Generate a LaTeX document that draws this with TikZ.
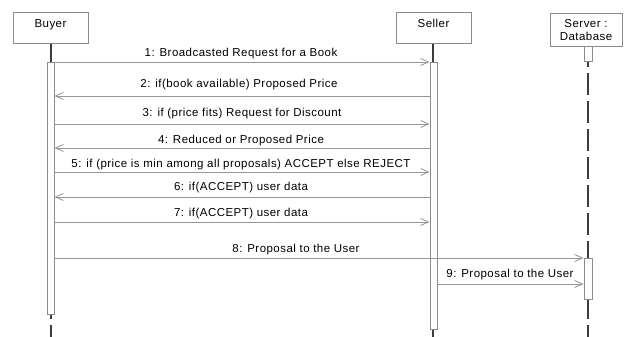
\documentclass[tikz,border=0pt]{standalone}
\usepackage{fontspec}
\setmainfont{Liberation Sans}[LetterSpace=4]
\usetikzlibrary{arrows.meta}
\definecolor{framegray}{RGB}{140,140,140}
\definecolor{msggray}{RGB}{150,150,150}
\definecolor{lifegray}{RGB}{60,60,60}
\begin{document}
\begin{tikzpicture}[x=1pt,y=-1pt,
  font=\fontsize{11.5}{13.5}\selectfont,
  objbox/.style={draw=framegray, line width=0.8pt, fill=white, inner sep=0pt,
    align=center, minimum width=75pt, minimum height=31pt},
  actbar/.style={draw=framegray, line width=0.8pt, fill=white, inner sep=0pt,
    minimum width=7pt},
  lifeline/.style={draw=lifegray, line width=1.2pt},
  dashline/.style={lifeline, dash pattern=on 22pt off 6pt},
  msg/.style={draw=msggray, line width=0.8pt,
    -{Straight Barb[length=8pt,width=7pt,line width=0.8pt]}},
  lbl/.style={inner sep=0pt, anchor=base}]
\useasboundingbox (0,0) rectangle (624,337);

% objects
\node[objbox, anchor=north, text height=8pt, text depth=8pt] (buyer) at (50.5,12) {Buyer};
\node[objbox, anchor=north, text height=8pt, text depth=8pt] (seller) at (433.5,12) {Seller};
\node[objbox, anchor=north, minimum width=72pt, minimum height=33pt] (server) at (586,13) {Server :\\Database};

% lifelines
\coordinate (bend) at (51,337);
\coordinate (send) at (433,337);
\coordinate (vend) at (588,337);
\draw[lifeline] (buyer.south -| bend) -- (51,62);
\draw[lifeline] (seller.south -| send) -- (433,62);
\draw[dashline, dash phase=17pt] (51,314) -- (bend);
\draw[lifeline] (433,329) -- (send);
\draw[dashline, dash phase=16pt] (588,61) -- (vend);

% activation bars
\node[actbar, anchor=north, minimum height=252pt] (bact) at (50.5,62) {};
\node[actbar, anchor=north, minimum height=267pt] (sact) at (433.5,62) {};
\node[actbar, anchor=north, minimum width=8pt, minimum height=15pt] (vtop) at (588,46) {};
\node[actbar, anchor=north, minimum width=8pt, minimum height=41pt] (vact) at (588,258) {};

% messages
\draw[msg] (bact.east |- 0,62) -- (sact.west |- 0,62);
\draw[msg] (sact.west |- 0,96) -- (bact.east |- 0,96);
\draw[msg] (bact.east |- 0,124) -- (sact.west |- 0,124);
\draw[msg] (sact.west |- 0,148) -- (bact.east |- 0,148);
\draw[msg] (bact.east |- 0,172) -- (sact.west |- 0,172);
\draw[msg] (sact.west |- 0,197) -- (bact.east |- 0,197);
\draw[msg] (bact.east |- 0,222) -- (sact.west |- 0,222);
\draw[msg] (bact.east |- 0,258) -- (vact.west |- 0,258);
\draw[msg] (sact.east |- 0,284) -- (vact.west |- 0,284);

% message labels
\node[lbl] (l1) at (241,57) {1: Broadcasted Request for a Book};
\node[lbl] (l2) at (239,88) {2: if(book available) Proposed Price};
\node[lbl] (l3) at (242,116) {3: if (price fits) Request for Discount};
\node[lbl] (l4) at (241,143) {4: Reduced or Proposed Price};
\node[lbl] (l5) at (241,167) {5: if (price is min among all proposals) ACCEPT else REJECT};
\node[lbl] (l6) at (241,190) {6: if(ACCEPT) user data};
\node[lbl] (l7) at (241,216) {7: if(ACCEPT) user data};
\node[lbl] (l8) at (296,252) {8: Proposal to the User};
\node[lbl] (l9) at (510,277) {9: Proposal to the User};
\end{tikzpicture}
\end{document}
